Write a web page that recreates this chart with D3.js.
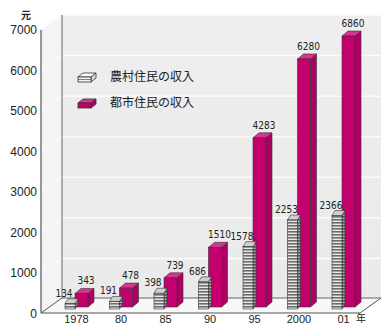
<!DOCTYPE html>
<html><head><meta charset="utf-8">
<script src="https://cdn.jsdelivr.net/npm/d3@7"></script>
<style>body{margin:0;background:#fff}svg{display:block}</style>
</head><body>
<svg id="c" width="381" height="324"></svg>
<script>
const categories = ["1978","80","85","90","95","2000","01"];
const rural = [134,191,398,686,1578,2253,2366];
const urban = [343,478,739,1510,4283,6280,6860];
const yTicks = [0,1000,2000,3000,4000,5000,6000,7000];
const seriesNames = ["農村住民の収入","都市住民の収入"];

const svg = d3.select("#c");
const defs = svg.append("defs");
const mkPat = (id, dark, light) => {
  const p = defs.append("pattern").attr("id", id).attr("patternUnits","userSpaceOnUse")
    .attr("width", 4).attr("height", 3);
  p.append("rect").attr("width",4).attr("height",3).attr("fill", light);
  p.append("rect").attr("width",4).attr("height",1.6).attr("fill", dark);
};
mkPat("gf", "#6e6e6e", "#e6e6e6");
mkPat("gs", "#555", "#aaa");
const wg = defs.append("linearGradient").attr("id","wall").attr("x1",0).attr("y1",0).attr("x2",0).attr("y2",1);
wg.append("stop").attr("offset","0").attr("stop-color","#eeeeee");
wg.append("stop").attr("offset","1").attr("stop-color","#eaeaea");

const yAxis = d3.scaleLinear().domain([0,7000]).range([314,30]);
const yBar = d3.scaleLinear().domain([0,7000]).range([309,32.5]);
const x = d3.scalePoint().domain(categories).range([65,332]);

const DX = 21, DY = -15;
const L = 41, R = 360, B = 313;
const poly = pts => pts.map(p=>p.join(",")).join(" ");

// walls
svg.append("polygon").attr("points", poly([[L+DX,yAxis(7000)+DY],[381,yAxis(7000)+DY],[381,B+DY],[L+DX,B+DY]])).attr("fill","url(#wall)");
svg.append("polygon").attr("points", poly([[L,yAxis(7000)],[L+DX,yAxis(7000)+DY],[L+DX,B+DY],[L,B]])).attr("fill","#f4f4f4");
svg.append("polygon").attr("points", poly([[L,B],[R,B],[R+DX,B+DY],[L+DX,B+DY]])).attr("fill","#f8f8f8");

// gridlines
yTicks.filter(v=>v>0).forEach(v=>{
  const yy = yAxis(v);
  svg.append("line").attr("x1",L+DX).attr("x2",381).attr("y1",yy+DY).attr("y2",yy+DY)
    .attr("stroke","#fbfbfb").attr("stroke-width",1.5);
  svg.append("line").attr("x1",L).attr("x2",L+DX).attr("y1",yy).attr("y2",yy+DY)
    .attr("stroke","#fbfbfb").attr("stroke-width",1.2);
});

// frame lines
const ln = (x1,y1,x2,y2,c,w)=>svg.append("line").attr("x1",x1).attr("y1",y1).attr("x2",x2).attr("y2",y2).attr("stroke",c).attr("stroke-width",w||1);
ln(L+DX,yAxis(7000)+DY,L+DX,B+DY,"#666",1);
ln(L+DX,B+DY,381,B+DY,"#666",1);
ln(L,yAxis(7000),L,B,"#555",1.2);
ln(L,B,R,B,"#555",1.2);
ln(L,B,L+DX,B+DY,"#555",1);
ln(R,B,R+DX,B+DY,"#555",1);

// tick labels
svg.append("g").selectAll("text").data(yTicks).join("text")
  .attr("x",37).attr("y",d=>yAxis(d)+4).attr("text-anchor","end")
  .attr("font-family","Liberation Sans, Arial, sans-serif").attr("font-size",12)
  .attr("fill","#222").text(d=>d);
svg.append("text").attr("x",26).attr("y",19).attr("text-anchor","middle")
  .attr("font-family","Noto Sans CJK JP").attr("font-weight","bold").attr("font-size",10)
  .attr("fill","#222").text("元");

// bars
function box(g, x0, w, yTop, yBot, dx, dy, front, side, top) {
  g.append("polygon").attr("points", poly([[x0+w,yBot],[x0+w+dx,yBot+dy],[x0+w+dx,yTop+dy],[x0+w,yTop]]))
    .attr("fill",side).attr("stroke","#333").attr("stroke-width",0.6);
  g.append("polygon").attr("points", poly([[x0,yTop],[x0+dx,yTop+dy],[x0+w+dx,yTop+dy],[x0+w,yTop]]))
    .attr("fill",top).attr("stroke","#333").attr("stroke-width",0.6);
  g.append("rect").attr("x",x0).attr("y",yTop).attr("width",w).attr("height",yBot-yTop)
    .attr("fill",front).attr("stroke","#333").attr("stroke-width",0.6);
}
const bars = svg.append("g");
categories.forEach((c,i)=>{
  const g = bars.append("g");
  const ux = x(c)+10, ub = yBar(0)-2;
  box(g, ux, 13, yBar(urban[i])-2, ub, 6, -5, "#c4006f", "#b00064", "#d9358e");
  box(g, x(c), 10, yBar(rural[i]), yBar(0), 3, -5, "url(#gf)", "url(#gs)", "#cfcfcf");
});

// value labels
const vf = "Liberation Sans Narrow, DejaVu Sans Condensed, sans-serif";
svg.append("g").selectAll("text").data(categories).join("text")
  .attr("x",c=>x(c)-1).attr("y",(c,i)=>yBar(rural[i])-7).attr("text-anchor","middle")
  .attr("font-family",vf).attr("font-size",10).attr("fill","#222").text((c,i)=>rural[i]);
svg.append("g").selectAll("text").data(categories).join("text")
  .attr("x",c=>x(c)+21).attr("y",(c,i)=>yBar(urban[i])-11).attr("text-anchor","middle")
  .attr("font-family",vf).attr("font-size",10).attr("fill","#222").text((c,i)=>urban[i]);

// x labels
svg.append("g").selectAll("text").data(categories).join("text")
  .attr("x",c=>x(c)+11.5).attr("y",323).attr("text-anchor","middle")
  .attr("font-family","Liberation Sans, Arial, sans-serif").attr("font-size",11)
  .attr("fill","#222").text(d=>d);
svg.append("text").attr("x",361).attr("y",322).attr("text-anchor","middle")
  .attr("font-family","Noto Sans CJK JP").attr("font-size",10).attr("fill","#222").text("年");

// legend
const lg = svg.append("g");
[0,1].forEach(k=>{
  const cy = 77 + k*26;
  const x0 = 78;
  const front = k===0 ? "#f2f2f2" : "#c4006f";
  const side = k===0 ? "#dcdcdc" : "#a8005e";
  const top = k===0 ? "#ffffff" : "#d9358e";
  lg.append("polygon").attr("points",poly([[x0,cy],[x0+5,cy-4],[x0+18,cy-4],[x0+13,cy]]))
    .attr("fill",top).attr("stroke","#333").attr("stroke-width",0.8);
  lg.append("polygon").attr("points",poly([[x0+13,cy],[x0+18,cy-4],[x0+18,cy+1],[x0+13,cy+5]]))
    .attr("fill",side).attr("stroke","#333").attr("stroke-width",0.8);
  lg.append("rect").attr("x",x0).attr("y",cy).attr("width",13).attr("height",5)
    .attr("fill",front).attr("stroke","#333").attr("stroke-width",0.8);
  if(k===0){ lg.append("line").attr("x1",x0).attr("x2",x0+13).attr("y1",cy+2.5).attr("y2",cy+2.5).attr("stroke","#333").attr("stroke-width",0.6); }
  lg.append("text").attr("x",110).attr("y",cy+4).attr("font-family","Noto Sans CJK JP")
    .attr("font-size",12).attr("fill","#222").text(seriesNames[k]);
});
</script>
</body></html>
